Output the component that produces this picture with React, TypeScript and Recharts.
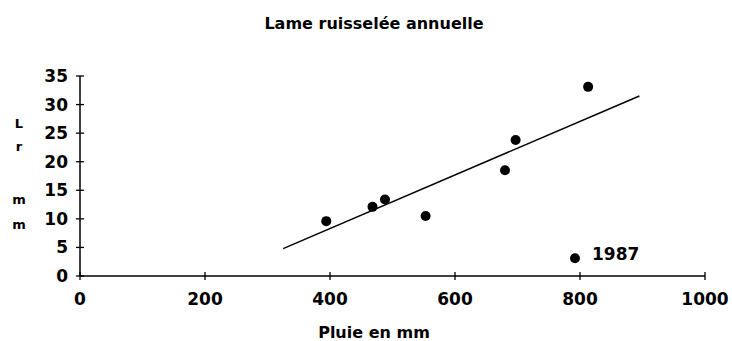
import { ScatterChart, Scatter, XAxis, YAxis } from 'recharts';

// rainfall (mm) vs annual runoff depth (mm)
const pluie = [394, 468, 488, 553, 680, 697, 813];
const lame = [9.6, 12.1, 13.4, 10.5, 18.5, 23.8, 33.1];

// the outlier year, labelled on the chart
const outlierPluie = [792];
const outlierLame = [3.1];
const outlierYear = ['1987'];

// ends of the fitted line
const trendPluie = [325, 895];
const trendLame = [4.8, 31.5];

const xTicks = [0, 200, 400, 600, 800, 1000];
const yTicks = [0, 5, 10, 15, 20, 25, 30, 35];

const points = pluie.map((x, i) => ({ x, y: lame[i] }));
const outliers = outlierPluie.map((x, i) => ({ x, y: outlierLame[i], label: outlierYear[i] }));
const trend = trendPluie.map((x, i) => ({ x, y: trendLame[i] }));

const FONT = '"DejaVu Sans", sans-serif';

const XTick = (props: any) => {
  const { x, y, payload } = props;
  return (
    <g>
      <line x1={x} x2={x} y1={y - 4} y2={y + 4} stroke="#000" strokeWidth={1.3} />
      <text x={x} y={y + 29} textAnchor="middle" fontSize={17} fontWeight="bold" fontFamily={FONT} fill="#000">
        {payload.value}
      </text>
    </g>
  );
};

const YTick = (props: any) => {
  const { x, y, payload } = props;
  return (
    <g>
      <line x1={x - 4} x2={x + 4} y1={y} y2={y} stroke="#000" strokeWidth={1.3} />
      <text x={x - 12} y={y + 6} textAnchor="end" fontSize={17} fontWeight="bold" fontFamily={FONT} fill="#000">
        {payload.value}
      </text>
    </g>
  );
};

const Dot = (props: any) => <circle cx={props.cx} cy={props.cy} r={5} fill="#000" />;

const LabelledDot = (props: any) => (
  <g>
    <circle cx={props.cx} cy={props.cy} r={5} fill="#000" />
    <text x={props.cx + 17} y={props.cy + 2} fontSize={17} fontWeight="bold" fontFamily={FONT} fill="#000">
      {props.payload.label}
    </text>
  </g>
);

export default function App() {
  return (
    <div style={{ position: 'absolute', left: 0, top: 0, width: 732, height: 341, background: '#fff' }}>
      <ScatterChart width={732} height={341} margin={{ top: 76, right: 27, bottom: 0, left: 0 }}>
        <XAxis
          type="number"
          dataKey="x"
          domain={[0, 1000]}
          ticks={xTicks}
          height={65}
          tickSize={0}
          tickMargin={0}
          tickLine={false}
          axisLine={{ stroke: '#000', strokeWidth: 1.5 }}
          tick={<XTick />}
        />
        <YAxis
          type="number"
          dataKey="y"
          domain={[0, 35]}
          ticks={yTicks}
          width={80}
          tickSize={0}
          tickMargin={0}
          tickLine={false}
          axisLine={{ stroke: '#000', strokeWidth: 1.5 }}
          tick={<YTick />}
        />
        <Scatter data={trend} line={{ stroke: '#000', strokeWidth: 1.5 }} shape={() => <g />} isAnimationActive={false} />
        <Scatter data={points} fill="#000" shape={<Dot />} isAnimationActive={false} />
        <Scatter data={outliers} fill="#000" shape={<LabelledDot />} isAnimationActive={false} />
      </ScatterChart>
      <svg width={732} height={341} style={{ position: 'absolute', left: 0, top: 0, pointerEvents: 'none' }}>
        <g fontFamily={FONT} fontWeight="bold" fill="#000">
          <text x={374} y={29} textAnchor="middle" fontSize={16}>Lame ruisselée annuelle</text>
          <text x={374} y={338} textAnchor="middle" fontSize={16}>Pluie en mm</text>
          <text x={19} y={128} textAnchor="middle" fontSize={13}>L</text>
          <text x={19} y={151} textAnchor="middle" fontSize={13}>r</text>
          <text x={19} y={204} textAnchor="middle" fontSize={13}>m</text>
          <text x={19} y={229} textAnchor="middle" fontSize={13}>m</text>
        </g>
      </svg>
    </div>
  );
}
